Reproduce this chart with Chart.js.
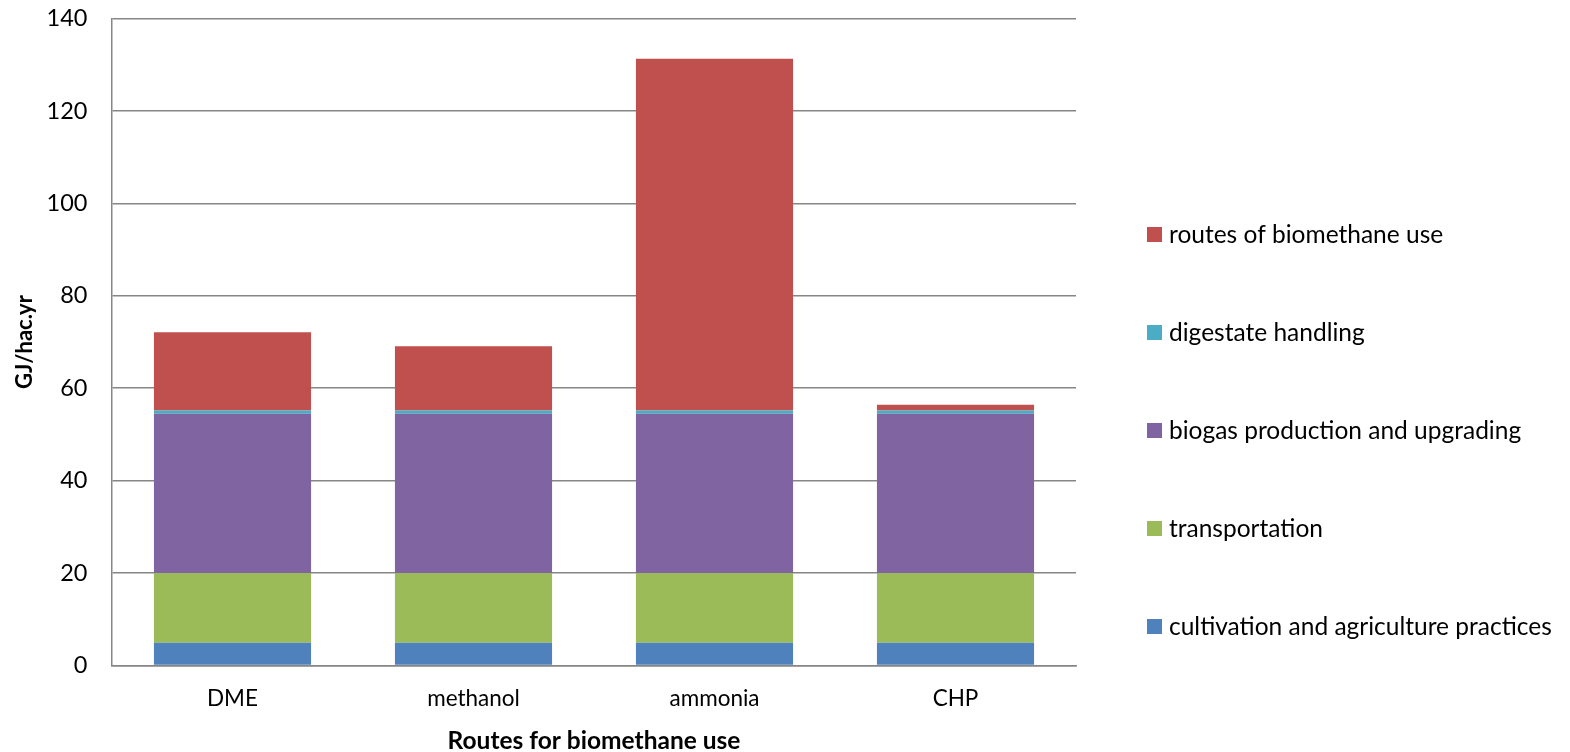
<!DOCTYPE html>
<html>
<head>
<meta charset="utf-8">
<script src="https://cdn.jsdelivr.net/npm/chart.js@4/dist/chart.umd.min.js"></script>
<style>
  html, body { margin: 0; padding: 0; background: #ffffff; }
  #wrap { width: 1570px; height: 752px; position: relative; }
</style>
</head>
<body>
<div id="wrap"><canvas id="c" width="1570" height="752"></canvas></div>
<script>
// Energy demand per hectare and year, by route of biomethane use
const categories = ['DME', 'methanol', 'ammonia', 'CHP'];
const cultivation = [4.9, 4.9, 4.9, 4.9];
const transportation = [15.1, 15.1, 15.1, 15.1];
const biogasProduction = [34.5, 34.5, 34.5, 34.5];
const digestateHandling = [0.7, 0.7, 0.7, 0.7];
const routesOfUse = [16.9, 13.9, 76.1, 1.2];
const yTicks = [0, 20, 40, 60, 80, 100, 120, 140];

const FONT = 'Lato, "Open Sans", "DejaVu Sans", sans-serif';

const datasets = [
  { label: 'cultivation and agriculture practices', data: cultivation, backgroundColor: '#4F81BD' },
  { label: 'transportation', data: transportation, backgroundColor: '#9BBB59' },
  { label: 'biogas production and upgrading', data: biogasProduction, backgroundColor: '#8064A2' },
  { label: 'digestate handling', data: digestateHandling, backgroundColor: '#4BACC6' },
  { label: 'routes of biomethane use', data: routesOfUse, backgroundColor: '#C0504D' }
].map(d => Object.assign(d, { borderWidth: 0, barPercentage: 0.652, categoryPercentage: 1 }));

// Side legend: one series per row, top row is the last stacked series
const sideLegend = {
  id: 'sideLegend',
  afterDraw(chart, args, opts) {
    const ctx = chart.ctx;
    const list = chart.data.datasets.slice().reverse();
    ctx.save();
    ctx.font = opts.fontSize + 'px ' + FONT;
    ctx.textBaseline = 'middle';
    ctx.textAlign = 'left';
    list.forEach((ds, i) => {
      const cy = opts.top + i * opts.step;
      ctx.fillStyle = ds.backgroundColor;
      ctx.fillRect(opts.left, cy - opts.box / 2, opts.box, opts.box);
      ctx.fillStyle = '#000000';
      ctx.fillText(ds.label, opts.left + opts.box + 7, cy + 1);
    });
    ctx.restore();
  }
};

new Chart(document.getElementById('c'), {
  type: 'bar',
  data: { labels: categories, datasets },
  plugins: [sideLegend],
  options: {
    responsive: false,
    animation: false,
    layout: { autoPadding: false, padding: { top: 18.5, right: 494, bottom: 0, left: 0 } },
    plugins: {
      legend: { display: false },
      tooltip: { enabled: false },
      sideLegend: { left: 1147, top: 234.5, step: 98, box: 15, fontSize: 24.5 }
    },
    scales: {
      x: {
        stacked: true,
        afterFit(scale) { scale.height = 86.5; },
        grid: { display: false, drawTicks: false },
        border: { display: true, color: '#868686', width: 1.5 },
        ticks: { color: '#000000', padding: 20, font: { family: FONT, size: 22.5 } },
        title: {
          display: true, text: 'Routes for biomethane use', color: '#000000',
          font: { family: FONT, size: 24.5, weight: 'bold', lineHeight: 1 },
          padding: { top: 0, bottom: -1 }
        }
      },
      y: {
        stacked: true,
        min: 0, max: 140,
        afterFit(scale) {
          scale.width = 112;
          scale.paddingTop = 0;
          scale.paddingBottom = 0;
        },
        afterBuildTicks(scale) { scale.ticks = yTicks.map(v => ({ value: v })); },
        grid: { color: '#868686', lineWidth: 1.5, drawTicks: false },
        border: { display: true, color: '#868686', width: 1.5 },
        ticks: { color: '#000000', padding: 24.5, font: { family: FONT, size: 23.5 } },
        title: {
          display: true, text: 'GJ/hac.yr', color: '#000000',
          font: { family: FONT, size: 22, weight: 'bold', lineHeight: 1 },
          padding: { top: 14, bottom: 0 }
        }
      }
    }
  }
});
</script>
</body>
</html>
